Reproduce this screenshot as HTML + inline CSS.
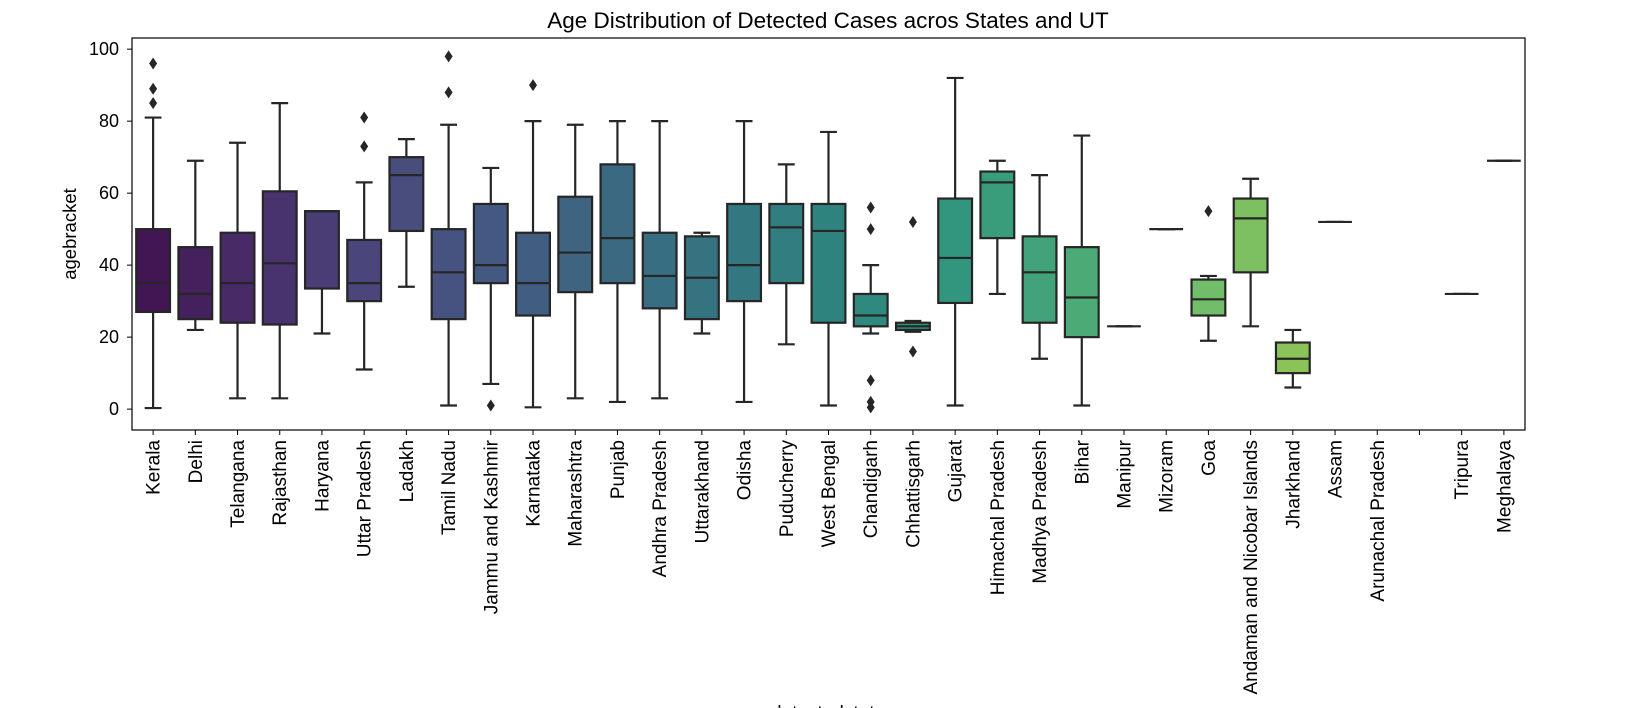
<!DOCTYPE html>
<html><head><meta charset="utf-8">
<style>
html,body{margin:0;padding:0;background:#fff;}
svg{display:block;font-family:"Liberation Sans","DejaVu Sans",sans-serif;}
</style></head>
<body>
<svg id="chart" width="1643" height="708" viewBox="0 0 1643 708">
<rect x="0" y="0" width="1643" height="708" fill="#fff"/>
<text x="828" y="28" text-anchor="middle" font-size="22.5" fill="#000">Age Distribution of Detected Cases acros States and UT</text>
<g id="plot"></g>
<text transform="translate(76,234) rotate(-90)" text-anchor="middle" font-size="18.5" fill="#000">agebracket</text>
<text x="828" y="719" text-anchor="middle" font-size="19" fill="#000">detectedstate</text>
</svg>
<script>
const categories = ["Kerala","Delhi","Telangana","Rajasthan","Haryana","Uttar Pradesh","Ladakh","Tamil Nadu","Jammu and Kashmir","Karnataka","Maharashtra","Punjab","Andhra Pradesh","Uttarakhand","Odisha","Puducherry","West Bengal","Chandigarh","Chhattisgarh","Gujarat","Himachal Pradesh","Madhya Pradesh","Bihar","Manipur","Mizoram","Goa","Andaman and Nicobar Islands","Jharkhand","Assam","Arunachal Pradesh","","Tripura","Meghalaya"];
const whiskerLow = [0.3,22,3,3,21,11,34,1,7,0.5,3,2,3,21,2,18,1,21,21.5,1,32,14,1,23,50,19,23,6,52,null,null,32,69];
const q1 = [27,25,24,23.5,33.5,30,49.5,25,35,26,32.5,35,28,25,30,35,24,23,22,29.5,47.5,24,20,23,50,26,38,10,52,null,null,32,69];
const medians = [35,32,35,40.5,55,35,65,38,40,35,43.5,47.5,37,36.5,40,50.5,49.5,26,23,42,63,38,31,23,50,30.5,53,14,52,null,null,32,69];
const q3 = [50,45,49,60.5,55,47,70,50,57,49,59,68,49,48,57,57,57,32,24,58.5,66,48,45,23,50,36,58.5,18.5,52,null,null,32,69];
const whiskerHigh = [81,69,74,85,55,63,75,79,67,80,79,80,80,49,80,68,77,40,24.5,92,69,65,76,23,50,37,64,22,52,null,null,32,69];
const outliers = [[85,89,96],[],[],[],[],[73,81],[],[88,98],[1],[90],[],[],[],[],[],[],[],[56,50,8,2,0.5],[52,16],[],[],[],[],[],[],[55],[],[],[],[],[],[],[]];
const yTicks = [0,20,40,60,80,100];

const L=132,R=1525,T=38,B=430,yMin=-5.8,yMax=103.1;
const n=categories.length, step=(R-L)/n;
const xPos=i=>L+step*(i+0.5);
const yPos=v=>B-(v-yMin)/(yMax-yMin)*(B-T);
const NS="http://www.w3.org/2000/svg";
const g=document.getElementById('plot');
function mk(tag,attrs,parent){const e=document.createElementNS(NS,tag);for(const k in attrs)e.setAttribute(k,attrs[k]);(parent||g).appendChild(e);return e;}

const stops=["#440154","#482475","#414487","#355f8d","#2a788e","#21918c","#22a884","#44bf70","#7ad151","#bddf26","#fde725"];
function hex(h){return [1,3,5].map(i=>parseInt(h.substr(i,2),16)/255);}
function viridis(t){const p=t*10,i=Math.min(9,Math.floor(p)),f=p-i;const a=hex(stops[i]),b=hex(stops[i+1]);return a.map((v,k)=>v+(b[k]-v)*f);}
function desat(c,p){let [r,g2,b]=c;const mx=Math.max(r,g2,b),mn=Math.min(r,g2,b),l=(mx+mn)/2;let h=0,s=0;
 if(mx!==mn){const d=mx-mn;s=l>0.5?d/(2-mx-mn):d/(mx+mn);
  if(mx===r)h=((g2-b)/d+(g2<b?6:0))/6;else if(mx===g2)h=((b-r)/d+2)/6;else h=((r-g2)/d+4)/6;}
 s*=p;const q=l<0.5?l*(1+s):l+s-l*s,pp=2*l-q;
 const f=t=>{if(t<0)t+=1;if(t>1)t-=1;if(t<1/6)return pp+(q-pp)*6*t;if(t<1/2)return q;if(t<2/3)return pp+(q-pp)*(2/3-t)*6;return pp;};
 return `rgb(${[f(h+1/3),f(h),f(h-1/3)].map(v=>Math.round(v*255)).join(',')})`;}

const ln="#262626";
yTicks.forEach(v=>{
 const y=yPos(v);
 const t=mk('line',{x1:L-5,x2:L,y1:y,y2:y,stroke:'#000','stroke-width':1});
 
 
 const tx=mk('text',{x:L-13,y:y+6,'text-anchor':'end','font-size':18,fill:'#000'});
 tx.textContent=v;
 
 
});
categories.forEach((c,i)=>{
 const x=xPos(i);
 const t=mk('line',{x1:x,x2:x,y1:B,y2:B+5,stroke:'#000','stroke-width':1});
 
 
 const tx=mk('text',{transform:`translate(${x+6.5},${B+10}) rotate(-90)`,'text-anchor':'end','font-size':19,fill:'#000'});
 tx.textContent=c;
 
 
 if(medians[i]==null)return;
 const col=desat(viridis((i+1)/(n+1)),0.75);
 const hw=step*0.4, cw=step*0.2;
 const grp=mk('g',{});
 
 
 const sw=2.2;
 mk('line',{x1:x,x2:x,y1:yPos(whiskerLow[i]),y2:yPos(q1[i]),stroke:ln,'stroke-width':sw},grp);
 mk('line',{x1:x,x2:x,y1:yPos(q3[i]),y2:yPos(whiskerHigh[i]),stroke:ln,'stroke-width':sw},grp);
 mk('line',{x1:x-cw,x2:x+cw,y1:yPos(whiskerLow[i]),y2:yPos(whiskerLow[i]),stroke:ln,'stroke-width':sw},grp);
 mk('line',{x1:x-cw,x2:x+cw,y1:yPos(whiskerHigh[i]),y2:yPos(whiskerHigh[i]),stroke:ln,'stroke-width':sw},grp);
 mk('rect',{x:x-hw,y:yPos(q3[i]),width:2*hw,height:Math.max(0,yPos(q1[i])-yPos(q3[i])),fill:col,stroke:ln,'stroke-width':sw},grp);
 mk('line',{x1:x-hw,x2:x+hw,y1:yPos(medians[i]),y2:yPos(medians[i]),stroke:ln,'stroke-width':sw},grp);
 outliers[i].forEach(v=>{
  const y=yPos(v);
  const d=mk('polygon',{points:`${x},${y-6} ${x+4},${y} ${x},${y+6} ${x-4},${y}`,fill:ln},grp);
  
  
 });
});
const frame=mk('rect',{x:L,y:T,width:R-L,height:B-T,fill:'none',stroke:'#000','stroke-width':1.2});


</script>
</body></html>
